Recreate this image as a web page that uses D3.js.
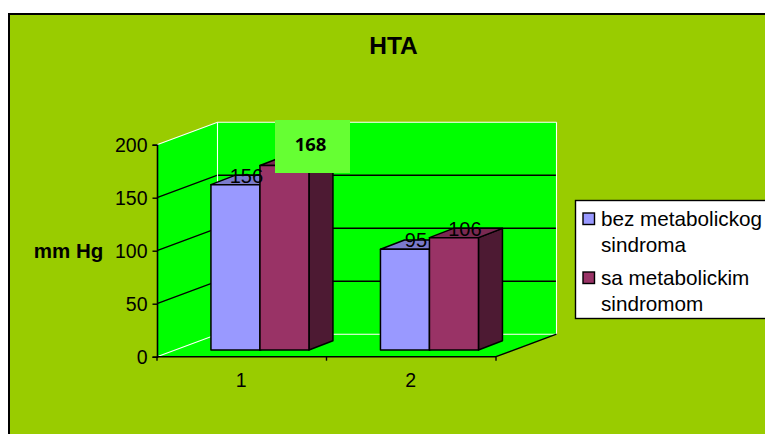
<!DOCTYPE html>
<html><head><meta charset="utf-8">
<script src="https://cdn.jsdelivr.net/npm/d3@7"></script>
<style>html,body{margin:0;padding:0;background:#fff}svg{display:block}text{font-family:"Liberation Sans",Arial,sans-serif;fill:#000}</style>
</head><body><svg id="c" width="765" height="434"></svg>
<script>
const categories = ["1","2"];
const seriesNames = ["bez metabolickog sindroma","sa metabolickim sindromom"];
const bezValues = [156,95];
const saValues = [174,106];
const bezLabels = ["156","95"];
const saLabels = ["168","106"];
const yTicks = [0,50,100,150,200];
const title = "HTA";
const yTitle = "mm Hg";
const frontColors = ["#9999FF","#993366"];
const topColors = ["#7A7ACC","#7A2952"];
const sideColors = ["#4D4D80","#4D1A33"];

const svg = d3.select("#c");
svg.append("rect").attr("x",9).attr("y",14).attr("width",770).attr("height",430).attr("fill","#99CC00").attr("stroke","#000").attr("stroke-width",2);

const y = d3.scaleLinear().domain([0,200]).range([356.7,144.7]);
const x = d3.scaleBand().domain(categories).range([157,496]);
const inner = d3.scaleBand().domain([0,1]).range([-49,49]);
const wallDx = 60.5, wallDy = -22.5;
const barBaseDx = 18.2, barBaseDy = -6.7, barDx = 24, barDy = -9.3;
const line = d3.line();

// walls and floor
const x0=157,x1=496;
svg.append("path").attr("fill","#00FF00").attr("d",line([[x0,y(0)],[x0,y(200)],[x0+wallDx,y(200)+wallDy],[x0+wallDx,y(0)+wallDy]])+"Z");
svg.append("path").attr("fill","#00FF00").attr("d",line([[x0+wallDx,y(200)+wallDy],[x1+wallDx,y(200)+wallDy],[x1+wallDx,y(0)+wallDy],[x0+wallDx,y(0)+wallDy]])+"Z");
svg.append("path").attr("fill","#00FF00").attr("d",line([[x0,y(0)],[x1,y(0)],[x1+wallDx,y(0)+wallDy],[x0+wallDx,y(0)+wallDy]])+"Z");

// gridlines
yTicks.forEach(t=>{
  const isEdge = t===0||t===200;
  svg.append("path").attr("fill","none").attr("stroke",isEdge?"#fff":"#000").attr("stroke-width",isEdge?1.1:1.4)
    .attr("d",line([[x0,y(t)],[x0+wallDx,y(t)+wallDy],[x1+wallDx,y(t)+wallDy]]));
});
svg.append("path").attr("stroke","#fff").attr("stroke-width",1.1).attr("fill","none")
  .attr("d",line([[x0+wallDx,y(200)+wallDy],[x0+wallDx,y(0)+wallDy]]));
svg.append("path").attr("stroke","#fff").attr("stroke-width",1.1).attr("fill","none")
  .attr("d",line([[x1+wallDx,y(200)+wallDy],[x1+wallDx,y(0)+wallDy]]));
svg.append("path").attr("stroke","#000").attr("stroke-width",1.4).attr("fill","none")
  .attr("d",line([[x1,y(0)],[x1+wallDx,y(0)+wallDy]]));

// axes
const yAxis = svg.append("g").attr("transform",`translate(${x0},0)`)
  .call(d3.axisLeft(y).tickValues(yTicks).tickSize(4.5).tickPadding(5));
yAxis.select(".domain").attr("stroke","#000").attr("stroke-width",1.6);
yAxis.selectAll(".tick line").attr("stroke","#000").attr("stroke-width",1.4);
yAxis.selectAll("text").attr("font-size",19.5).attr("font-family","Liberation Sans").attr("dy","0.36em");

svg.append("line").attr("x1",x0).attr("x2",x1).attr("y1",y(0)).attr("y2",y(0)).attr("stroke","#000").attr("stroke-width",1.6);
[x0,x(categories[1]),x1].forEach(v=>{
  svg.append("line").attr("x1",v).attr("x2",v).attr("y1",y(0)).attr("y2",y(0)+4).attr("stroke","#000").attr("stroke-width",1.4);
});
categories.forEach(c=>{
  svg.append("text").attr("x",x(c)+x.bandwidth()/2-0.5).attr("y",387).attr("text-anchor","middle").attr("font-size",19.5).text(c);
});

// bars
const series = [bezValues,saValues];
const base = y(0)+barBaseDy;
const unit = y(0)-y(1);
categories.forEach((c,i)=>{
  series.forEach((vals,s)=>{
    const xl = x(c)+x.bandwidth()/2+barBaseDx+inner(s);
    const w = inner.bandwidth();
    const top = base-vals[i]*unit;
    const g = svg.append("g").attr("stroke","#000").attr("stroke-width",1.5).attr("stroke-linejoin","round");
    g.append("path").attr("fill",sideColors[s]).attr("d",line([[xl+w,base],[xl+w,top],[xl+w+barDx,top+barDy],[xl+w+barDx,base+barDy]])+"Z");
    g.append("path").attr("fill",topColors[s]).attr("d",line([[xl,top],[xl+w,top],[xl+w+barDx,top+barDy],[xl+barDx,top+barDy]])+"Z");
    g.append("rect").attr("x",xl).attr("y",top).attr("width",w).attr("height",base-top).attr("fill",frontColors[s]);
  });
});

// value labels
categories.forEach((c,i)=>{
  const cx = x(c)+x.bandwidth()/2+barBaseDx;
  const blue = base-bezValues[i]*unit;
  svg.append("text").attr("x",cx+inner(0)+inner.bandwidth()/2+11).attr("y",blue-2).attr("text-anchor","middle").attr("font-size",20).text(bezLabels[i]);
  if(i===1){
    const red = base-saValues[i]*unit;
    svg.append("text").attr("x",cx+inner(1)+inner.bandwidth()/2+11).attr("y",red-2).attr("text-anchor","middle").attr("font-size",20).text(saLabels[i]);
  }
});
// overlay box for the edited label
svg.append("rect").attr("x",275).attr("y",120).attr("width",75).attr("height",53).attr("fill","#66FF33");
svg.append("text").attr("x",310.5).attr("y",151).attr("text-anchor","middle").attr("font-size",18.5).attr("font-weight","700").style("font-family","'Open Sans',sans-serif").text(saLabels[0]);

// titles
svg.append("text").attr("x",393.5).attr("y",54).attr("text-anchor","middle").attr("font-size",24.5).attr("font-weight","700").text(title);
svg.append("text").attr("x",68.5).attr("y",258).attr("text-anchor","middle").attr("font-size",20.5).attr("font-weight","700").text(yTitle);

// legend
svg.append("rect").attr("x",575.5).attr("y",200.5).attr("width",200).attr("height",118).attr("fill","#fff").attr("stroke","#000").attr("stroke-width",1.4);
const legendLines = [["bez metabolickog","sindroma"],["sa metabolickim","sindromom"]];
legendLines.forEach((ls,s)=>{
  const y0 = 226+s*59;
  svg.append("rect").attr("x",583).attr("y",y0-13).attr("width",11.5).attr("height",11.5).attr("fill",frontColors[s]).attr("stroke","#000").attr("stroke-width",1.4);
  ls.forEach((t,k)=>svg.append("text").attr("x",601).attr("y",y0+k*25.7).attr("font-size",20.7).text(t));
});
</script></body></html>
